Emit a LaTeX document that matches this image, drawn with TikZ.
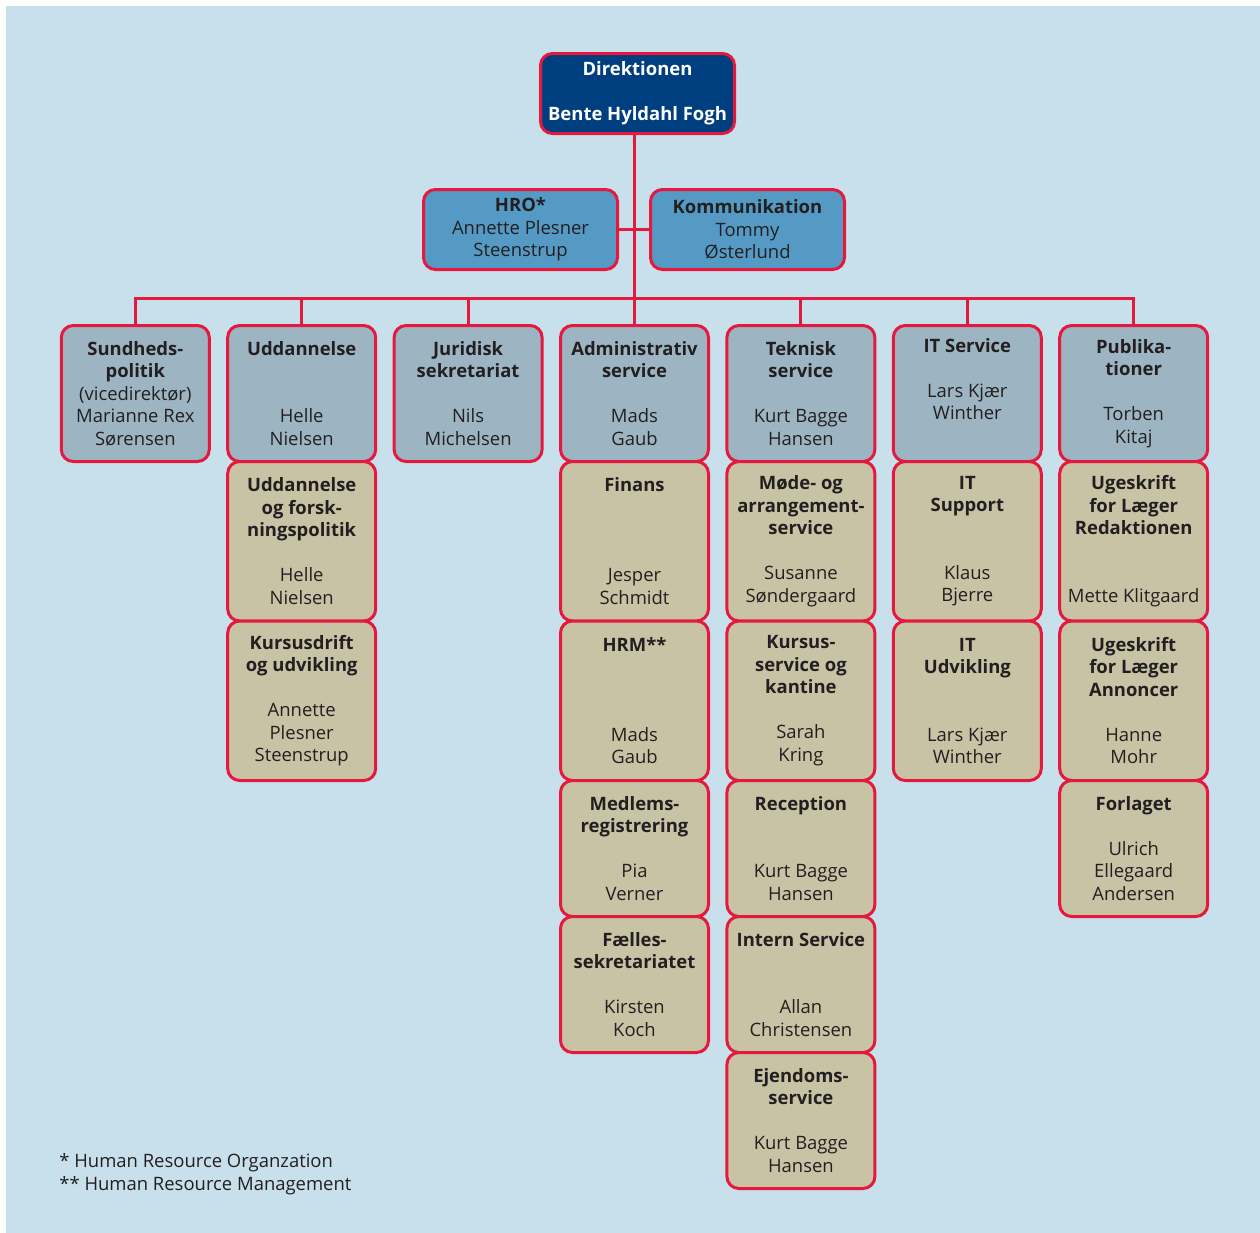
\documentclass[tikz,border=0pt]{standalone}
\usepackage{fontspec}
\setmainfont{Open Sans}
\usepackage{tikz}
\usetikzlibrary{positioning}
\definecolor{bgblue}{HTML}{C8E0EB}
\definecolor{navy}{HTML}{003F7F}
\definecolor{midblue}{HTML}{549AC5}
\definecolor{greyblue}{HTML}{9DB5C3}
\definecolor{khaki}{HTML}{C8C3A5}
\definecolor{orgred}{HTML}{E4193D}
\definecolor{ink}{HTML}{231F20}

\begin{document}
\begin{tikzpicture}[
				box/.style={rectangle, rounded corners=2.4mm, draw=orgred, line width=0.6mm, outer sep=0pt, inner sep=1pt, align=center, text=ink, font=\fontsize{10.5}{12.8}\selectfont},
				chief/.style={box, fill=navy, text=white, minimum width=38.8mm, minimum height=16mm},
				staff/.style={box, fill=midblue, minimum width=38.8mm, minimum height=16mm},
				dept/.style={box, fill=greyblue, minimum width=29.6mm, minimum height=27.2mm},
				unit/.style={box, fill=khaki, minimum width=29.6mm, minimum height=27.2mm},
				tallunit/.style={unit, minimum height=31.9mm},
				link/.style={draw=orgred, line width=0.6mm},
				note/.style={rectangle, align=left, text=ink, inner sep=0pt, font=\fontsize{10.5}{13}\selectfont}
			]
			\useasboundingbox (0,0) rectangle (252mm,-246.4mm);
			\fill[bgblue] (1.2mm,-1.2mm) rectangle (254mm,-248.4mm);
			\node[chief] (direk) at (127.5mm,-18.7mm) {\textbf{Direktionen}\\[12.8pt]\textbf{Bente Hyldahl Fogh}};
			\node[staff] (hro) at (104.1mm,-45.9mm) {\textbf{HRO*}\\Annette Plesner\\Steenstrup};
			\node[staff] (komm) [right=6.6mm of hro] {\textbf{Kommunikation}\\Tommy\\Østerlund};
			\node[dept, anchor=north] (admin) at (126.9mm,-65.1mm) {\textbf{Administrativ}\\\textbf{service}\\[12.8pt]Mads\\Gaub};
			\node[dept] (jur) [left=3.68mm of admin] {\textbf{Juridisk}\\\textbf{sekretariat}\\[12.8pt]Nils\\Michelsen};
			\node[dept] (udd) [left=3.68mm of jur] {\textbf{Uddannelse}\\[25.6pt]Helle\\Nielsen};
			\node[dept] (sund) [left=3.68mm of udd] {\textbf{Sundheds-}\\\textbf{politik}\\(vicedirektør)\\Marianne Rex\\Sørensen};
			\node[dept] (tekn) [right=3.68mm of admin] {\textbf{Teknisk}\\\textbf{service}\\[12.8pt]Kurt Bagge\\Hansen};
			\node[dept] (it) [right=3.68mm of tekn] {\textbf{IT Service}\\[12.8pt]Lars Kjær\\Winther\\\strut};
			\node[dept] (publ) [right=3.68mm of it] {\textbf{Publika-}\\\textbf{tioner}\\[12.8pt]Torben\\Kitaj};
			\node[tallunit] (uddfp) [below=0pt of udd] {\textbf{Uddannelse}\\\textbf{og forsk-}\\\textbf{ningspolitik}\\[12.8pt]Helle\\Nielsen};
			\node[tallunit] (kurs) [below=0pt of uddfp] {\textbf{Kursusdrift}\\\textbf{og udvikling}\\[12.8pt]Annette\\Plesner\\Steenstrup};
			\node[tallunit] (fin) [below=0pt of admin] {\textbf{Finans}\\[38.4pt]Jesper\\Schmidt};
			\node[tallunit] (hrm) [below=0pt of fin] {\textbf{HRM**}\\[38.4pt]Mads\\Gaub};
			\node[unit] (medl) [below=0pt of hrm] {\textbf{Medlems-}\\\textbf{registrering}\\[12.8pt]Pia\\Verner};
			\node[unit] (faelles) [below=0pt of medl] {\textbf{Fælles-}\\\textbf{sekretariatet}\\[12.8pt]Kirsten\\Koch};
			\node[tallunit] (mode) [below=0pt of tekn] {\textbf{Møde- og}\\\textbf{arrangement-}\\\textbf{service}\\[12.8pt]Susanne\\Søndergaard};
			\node[tallunit] (kantine) [below=0pt of mode] {\textbf{Kursus-}\\\textbf{service og}\\\textbf{kantine}\\[12.8pt]Sarah\\Kring};
			\node[unit] (recep) [below=0pt of kantine] {\textbf{Reception}\\[25.6pt]Kurt Bagge\\Hansen};
			\node[unit] (intern) [below=0pt of recep] {\textbf{Intern Service}\\[25.6pt]Allan\\Christensen};
			\node[unit] (ejendom) [below=0pt of intern] {\textbf{Ejendoms-}\\\textbf{service}\\[12.8pt]Kurt Bagge\\Hansen};
			\node[tallunit] (itsup) [below=0pt of it] {\textbf{IT}\\\textbf{Support}\\[25.6pt]Klaus\\Bjerre};
			\node[tallunit] (itudv) [below=0pt of itsup] {\textbf{IT}\\\textbf{Udvikling}\\[25.6pt]Lars Kjær\\Winther};
			\node[tallunit] (ugred) [below=0pt of publ] {\textbf{Ugeskrift}\\\textbf{for Læger}\\\textbf{Redaktionen}\\[25.6pt]Mette Klitgaard};
			\node[tallunit] (ugann) [below=0pt of ugred] {\textbf{Ugeskrift}\\\textbf{for Læger}\\\textbf{Annoncer}\\[12.8pt]Hanne\\Mohr};
			\node[unit] (forlag) [below=0pt of ugann] {\textbf{Forlaget}\\[12.8pt]Ulrich\\Ellegaard\\Andersen};
			\node[note, anchor=west] (foot) at (11.8mm,-234.9mm) {* Human Resource Organzation\\** Human Resource Management};
			\coordinate[above=5.5mm of admin] (bus);
			\draw[link] (direk.south -| admin.north) -- (admin.north);
			\draw[link] (hro.east) -- (komm.west);
			\draw[link] (sund.north) |- (bus) -| (publ.north);
			\foreach \d in {udd,jur,tekn,it}
				\draw[link] (\d.north) -- (\d.north |- bus);
			\end{tikzpicture}
\end{document}
